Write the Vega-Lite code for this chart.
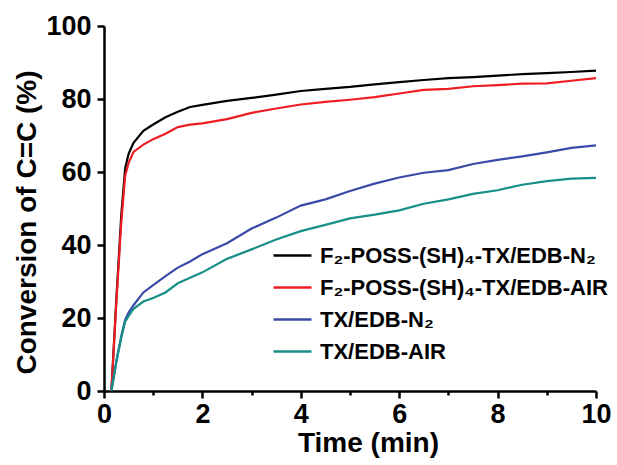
{
  "$schema": "https://vega.github.io/schema/vega-lite/v6.json",
  "width": 492,
  "height": 365,
  "autosize": {"type": "none"},
  "padding": {"left": 104, "top": 26, "right": 21, "bottom": 74},
  "background": "white",
  "config": {"view": {"stroke": null}, "font": "Liberation Sans"},
  "datasets": {
    "curves": [
      {"s": "F₂-POSS-(SH)₄-TX/EDB-N₂", "t": 0.15, "v": 0},
      {"s": "F₂-POSS-(SH)₄-TX/EDB-N₂", "t": 0.25, "v": 25},
      {"s": "F₂-POSS-(SH)₄-TX/EDB-N₂", "t": 0.35, "v": 48},
      {"s": "F₂-POSS-(SH)₄-TX/EDB-N₂", "t": 0.43, "v": 61},
      {"s": "F₂-POSS-(SH)₄-TX/EDB-N₂", "t": 0.5, "v": 65},
      {"s": "F₂-POSS-(SH)₄-TX/EDB-N₂", "t": 0.6, "v": 68},
      {"s": "F₂-POSS-(SH)₄-TX/EDB-N₂", "t": 0.8, "v": 71.3},
      {"s": "F₂-POSS-(SH)₄-TX/EDB-N₂", "t": 1.0, "v": 73},
      {"s": "F₂-POSS-(SH)₄-TX/EDB-N₂", "t": 1.25, "v": 75},
      {"s": "F₂-POSS-(SH)₄-TX/EDB-N₂", "t": 1.5, "v": 76.5},
      {"s": "F₂-POSS-(SH)₄-TX/EDB-N₂", "t": 1.75, "v": 77.8},
      {"s": "F₂-POSS-(SH)₄-TX/EDB-N₂", "t": 2.0, "v": 78.4},
      {"s": "F₂-POSS-(SH)₄-TX/EDB-N₂", "t": 2.5, "v": 79.5},
      {"s": "F₂-POSS-(SH)₄-TX/EDB-N₂", "t": 3.0, "v": 80.3},
      {"s": "F₂-POSS-(SH)₄-TX/EDB-N₂", "t": 3.5, "v": 81.2},
      {"s": "F₂-POSS-(SH)₄-TX/EDB-N₂", "t": 4.0, "v": 82.2},
      {"s": "F₂-POSS-(SH)₄-TX/EDB-N₂", "t": 4.5, "v": 82.8},
      {"s": "F₂-POSS-(SH)₄-TX/EDB-N₂", "t": 5.0, "v": 83.3},
      {"s": "F₂-POSS-(SH)₄-TX/EDB-N₂", "t": 5.5, "v": 84.0},
      {"s": "F₂-POSS-(SH)₄-TX/EDB-N₂", "t": 6.0, "v": 84.6},
      {"s": "F₂-POSS-(SH)₄-TX/EDB-N₂", "t": 6.5, "v": 85.2},
      {"s": "F₂-POSS-(SH)₄-TX/EDB-N₂", "t": 7.0, "v": 85.7},
      {"s": "F₂-POSS-(SH)₄-TX/EDB-N₂", "t": 7.5, "v": 86.0},
      {"s": "F₂-POSS-(SH)₄-TX/EDB-N₂", "t": 8.0, "v": 86.4},
      {"s": "F₂-POSS-(SH)₄-TX/EDB-N₂", "t": 8.5, "v": 86.8},
      {"s": "F₂-POSS-(SH)₄-TX/EDB-N₂", "t": 9.0, "v": 87.1},
      {"s": "F₂-POSS-(SH)₄-TX/EDB-N₂", "t": 9.5, "v": 87.4},
      {"s": "F₂-POSS-(SH)₄-TX/EDB-N₂", "t": 10.0, "v": 87.8},
      {"s": "F₂-POSS-(SH)₄-TX/EDB-AIR", "t": 0.15, "v": 0},
      {"s": "F₂-POSS-(SH)₄-TX/EDB-AIR", "t": 0.25, "v": 24},
      {"s": "F₂-POSS-(SH)₄-TX/EDB-AIR", "t": 0.35, "v": 46},
      {"s": "F₂-POSS-(SH)₄-TX/EDB-AIR", "t": 0.43, "v": 59},
      {"s": "F₂-POSS-(SH)₄-TX/EDB-AIR", "t": 0.5, "v": 62.5},
      {"s": "F₂-POSS-(SH)₄-TX/EDB-AIR", "t": 0.6, "v": 65.5},
      {"s": "F₂-POSS-(SH)₄-TX/EDB-AIR", "t": 0.8, "v": 67.5},
      {"s": "F₂-POSS-(SH)₄-TX/EDB-AIR", "t": 1.0, "v": 69},
      {"s": "F₂-POSS-(SH)₄-TX/EDB-AIR", "t": 1.25, "v": 70.5},
      {"s": "F₂-POSS-(SH)₄-TX/EDB-AIR", "t": 1.5, "v": 72.3},
      {"s": "F₂-POSS-(SH)₄-TX/EDB-AIR", "t": 1.75, "v": 73.0},
      {"s": "F₂-POSS-(SH)₄-TX/EDB-AIR", "t": 2.0, "v": 73.3},
      {"s": "F₂-POSS-(SH)₄-TX/EDB-AIR", "t": 2.5, "v": 74.5},
      {"s": "F₂-POSS-(SH)₄-TX/EDB-AIR", "t": 3.0, "v": 76.2},
      {"s": "F₂-POSS-(SH)₄-TX/EDB-AIR", "t": 3.5, "v": 77.4},
      {"s": "F₂-POSS-(SH)₄-TX/EDB-AIR", "t": 4.0, "v": 78.5},
      {"s": "F₂-POSS-(SH)₄-TX/EDB-AIR", "t": 4.5, "v": 79.2},
      {"s": "F₂-POSS-(SH)₄-TX/EDB-AIR", "t": 5.0, "v": 79.8},
      {"s": "F₂-POSS-(SH)₄-TX/EDB-AIR", "t": 5.5, "v": 80.5},
      {"s": "F₂-POSS-(SH)₄-TX/EDB-AIR", "t": 6.0, "v": 81.5},
      {"s": "F₂-POSS-(SH)₄-TX/EDB-AIR", "t": 6.5, "v": 82.5},
      {"s": "F₂-POSS-(SH)₄-TX/EDB-AIR", "t": 7.0, "v": 82.8},
      {"s": "F₂-POSS-(SH)₄-TX/EDB-AIR", "t": 7.5, "v": 83.5},
      {"s": "F₂-POSS-(SH)₄-TX/EDB-AIR", "t": 8.0, "v": 83.8},
      {"s": "F₂-POSS-(SH)₄-TX/EDB-AIR", "t": 8.5, "v": 84.2},
      {"s": "F₂-POSS-(SH)₄-TX/EDB-AIR", "t": 9.0, "v": 84.3},
      {"s": "F₂-POSS-(SH)₄-TX/EDB-AIR", "t": 9.5, "v": 85.0},
      {"s": "F₂-POSS-(SH)₄-TX/EDB-AIR", "t": 10.0, "v": 85.7},
      {"s": "TX/EDB-N₂", "t": 0.15, "v": 0},
      {"s": "TX/EDB-N₂", "t": 0.25, "v": 8},
      {"s": "TX/EDB-N₂", "t": 0.35, "v": 15},
      {"s": "TX/EDB-N₂", "t": 0.43, "v": 19.5},
      {"s": "TX/EDB-N₂", "t": 0.5, "v": 21.5},
      {"s": "TX/EDB-N₂", "t": 0.6, "v": 23.5},
      {"s": "TX/EDB-N₂", "t": 0.8, "v": 27},
      {"s": "TX/EDB-N₂", "t": 1.0, "v": 29},
      {"s": "TX/EDB-N₂", "t": 1.25, "v": 31.5},
      {"s": "TX/EDB-N₂", "t": 1.5, "v": 33.8},
      {"s": "TX/EDB-N₂", "t": 1.75, "v": 35.5},
      {"s": "TX/EDB-N₂", "t": 2.0, "v": 37.5},
      {"s": "TX/EDB-N₂", "t": 2.5, "v": 40.5},
      {"s": "TX/EDB-N₂", "t": 3.0, "v": 44.5},
      {"s": "TX/EDB-N₂", "t": 3.5, "v": 47.5},
      {"s": "TX/EDB-N₂", "t": 4.0, "v": 50.8},
      {"s": "TX/EDB-N₂", "t": 4.5, "v": 52.5},
      {"s": "TX/EDB-N₂", "t": 5.0, "v": 54.8},
      {"s": "TX/EDB-N₂", "t": 5.5, "v": 56.8},
      {"s": "TX/EDB-N₂", "t": 6.0, "v": 58.5},
      {"s": "TX/EDB-N₂", "t": 6.5, "v": 59.8},
      {"s": "TX/EDB-N₂", "t": 7.0, "v": 60.5},
      {"s": "TX/EDB-N₂", "t": 7.5, "v": 62.2},
      {"s": "TX/EDB-N₂", "t": 8.0, "v": 63.3},
      {"s": "TX/EDB-N₂", "t": 8.5, "v": 64.3},
      {"s": "TX/EDB-N₂", "t": 9.0, "v": 65.4},
      {"s": "TX/EDB-N₂", "t": 9.5, "v": 66.6},
      {"s": "TX/EDB-N₂", "t": 10.0, "v": 67.3},
      {"s": "TX/EDB-AIR", "t": 0.15, "v": 0},
      {"s": "TX/EDB-AIR", "t": 0.25, "v": 8},
      {"s": "TX/EDB-AIR", "t": 0.35, "v": 14.5},
      {"s": "TX/EDB-AIR", "t": 0.43, "v": 19},
      {"s": "TX/EDB-AIR", "t": 0.5, "v": 20.5},
      {"s": "TX/EDB-AIR", "t": 0.6, "v": 22.5},
      {"s": "TX/EDB-AIR", "t": 0.8, "v": 24.5},
      {"s": "TX/EDB-AIR", "t": 1.0, "v": 25.5},
      {"s": "TX/EDB-AIR", "t": 1.25, "v": 27},
      {"s": "TX/EDB-AIR", "t": 1.5, "v": 29.5},
      {"s": "TX/EDB-AIR", "t": 1.75, "v": 31},
      {"s": "TX/EDB-AIR", "t": 2.0, "v": 32.5},
      {"s": "TX/EDB-AIR", "t": 2.5, "v": 36.2},
      {"s": "TX/EDB-AIR", "t": 3.0, "v": 38.8},
      {"s": "TX/EDB-AIR", "t": 3.5, "v": 41.5},
      {"s": "TX/EDB-AIR", "t": 4.0, "v": 43.8},
      {"s": "TX/EDB-AIR", "t": 4.5, "v": 45.5},
      {"s": "TX/EDB-AIR", "t": 5.0, "v": 47.3},
      {"s": "TX/EDB-AIR", "t": 5.5, "v": 48.3},
      {"s": "TX/EDB-AIR", "t": 6.0, "v": 49.5},
      {"s": "TX/EDB-AIR", "t": 6.5, "v": 51.3},
      {"s": "TX/EDB-AIR", "t": 7.0, "v": 52.5},
      {"s": "TX/EDB-AIR", "t": 7.5, "v": 54.0},
      {"s": "TX/EDB-AIR", "t": 8.0, "v": 55.0},
      {"s": "TX/EDB-AIR", "t": 8.5, "v": 56.5},
      {"s": "TX/EDB-AIR", "t": 9.0, "v": 57.5},
      {"s": "TX/EDB-AIR", "t": 9.5, "v": 58.2},
      {"s": "TX/EDB-AIR", "t": 10.0, "v": 58.4}
    ]
  },
  "data": {"name": "curves"},
  "mark": {"type": "line", "strokeWidth": 2.2},
  "encoding": {
    "x": {
      "field": "t",
      "type": "quantitative",
      "scale": {"domain": [0, 10], "nice": false},
      "axis": {
        "values": [0, 1, 2, 3, 4, 5, 6, 7, 8, 9, 10],
        "format": "d",
        "labelExpr": "datum.value % 2 === 0 ? datum.label : ''",
        "grid": false,
        "domainColor": "black",
        "domainWidth": 2.5,
        "tickColor": "black",
        "tickWidth": 2.5,
        "tickSize": {"condition": {"test": "datum.value % 2 === 1", "value": 4}, "value": 7},
        "labelFont": "Liberation Sans",
        "labelFontSize": 27,
        "labelFontWeight": "bold",
        "labelColor": "black",
        "labelPadding": 3,
        "labelFlush": false,
        "labelOverlap": false,
        "title": "Time (min)",
        "titleFont": "Liberation Sans",
        "titleFontSize": 28,
        "titleFontWeight": "bold",
        "titleColor": "black",
        "titlePadding": 2,
        "titleX": 264
      }
    },
    "y": {
      "field": "v",
      "type": "quantitative",
      "scale": {"domain": [0, 100], "nice": false},
      "axis": {
        "values": [0, 20, 40, 60, 80, 100],
        "grid": false,
        "domainColor": "black",
        "domainWidth": 2.5,
        "tickColor": "black",
        "tickWidth": 2.5,
        "tickSize": 7,
        "labelFont": "Liberation Sans",
        "labelFontSize": 27,
        "labelFontWeight": "bold",
        "labelColor": "black",
        "labelPadding": 6,
        "labelFlush": false,
        "labelOverlap": false,
        "title": "Conversion of C=C (%)",
        "titleFont": "Liberation Sans",
        "titleFontSize": 28,
        "titleFontWeight": "bold",
        "titleColor": "black",
        "titlePadding": 4,
        "titleY": 196
      }
    },
    "color": {
      "field": "s",
      "type": "nominal",
      "scale": {
        "domain": ["F₂-POSS-(SH)₄-TX/EDB-N₂", "F₂-POSS-(SH)₄-TX/EDB-AIR", "TX/EDB-N₂", "TX/EDB-AIR"],
        "range": ["#000000", "#ee1d23", "#3b4aa6", "#178f87"]
      },
      "legend": {
        "title": null,
        "orient": "none",
        "legendX": 168,
        "legendY": 209,
        "padding": 0,
        "symbolType": "stroke",
        "symbolSize": 1444,
        "symbolStrokeWidth": 2.5,
        "labelFont": "Liberation Sans",
        "labelFontSize": 22,
        "labelFontWeight": "bold",
        "labelColor": "black",
        "labelOffset": 7,
        "labelLimit": 400,
        "rowPadding": -4
      }
    }
  }
}
